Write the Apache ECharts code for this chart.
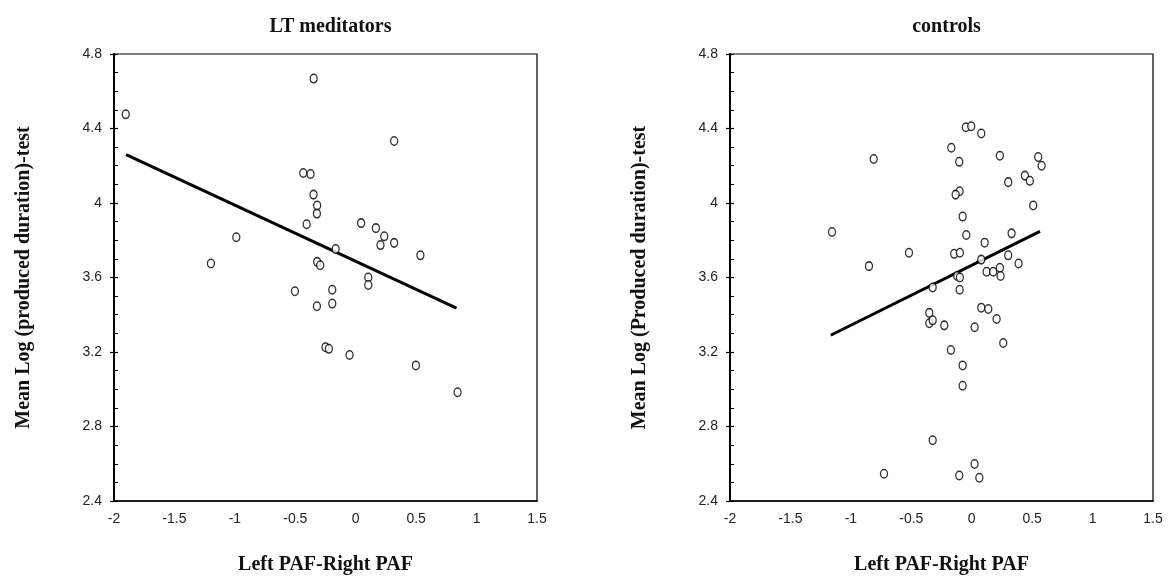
<!DOCTYPE html>
<html>
<head>
<meta charset="utf-8">
<script src="https://cdn.jsdelivr.net/npm/echarts@6/dist/echarts.min.js"></script>
<style>html,body{margin:0;padding:0;background:#fff;}#c{width:1173px;height:580px;}</style>
</head>
<body>
<div id="c"></div>
<script>
const titles = ['LT meditators', 'controls'];
const xName = 'Left PAF-Right PAF';
const yNames = ['Mean Log (produced duration)-test', 'Mean Log (Produced duration)-test'];

const meditators = [
  [-1.903,4.476],[-0.988,3.816],[-1.198,3.675],[-0.348,4.668],[0.318,4.333],
  [-0.434,4.161],[-0.374,4.156],[-0.349,4.045],[-0.319,3.987],[-0.321,3.943],
  [-0.406,3.886],[0.045,3.892],[0.167,3.865],[0.236,3.821],[0.205,3.774],
  [0.318,3.786],[0.535,3.719],[-0.166,3.753],[-0.319,3.684],[-0.294,3.666],
  [0.104,3.600],[0.104,3.560],[-0.503,3.526],[-0.194,3.534],[-0.321,3.446],
  [-0.194,3.460],[-0.250,3.226],[-0.222,3.217],[-0.051,3.184],[0.498,3.128],
  [0.843,2.984]
];
const controls = [
  [-0.811,4.236],[-1.156,3.844],[-0.519,3.733],[-0.850,3.661],[-0.726,2.546],
  [-0.048,4.407],[-0.004,4.412],[0.079,4.373],[-0.169,4.297],[-0.103,4.221],
  [0.233,4.254],[0.550,4.247],[0.578,4.200],[0.440,4.147],[0.481,4.119],
  [0.302,4.112],[-0.100,4.063],[-0.133,4.045],[0.509,3.987],[-0.075,3.927],
  [-0.045,3.828],[0.330,3.837],[0.107,3.787],[-0.145,3.727],[-0.098,3.733],
  [0.302,3.719],[0.079,3.696],[0.388,3.675],[0.123,3.631],[0.178,3.631],
  [0.233,3.652],[0.239,3.608],[-0.120,3.608],[-0.098,3.600],[-0.323,3.546],
  [-0.100,3.534],[0.079,3.438],[0.137,3.431],[0.206,3.377],[-0.351,3.410],
  [-0.351,3.354],[-0.323,3.370],[-0.227,3.343],[0.024,3.333],[0.261,3.248],
  [-0.172,3.211],[-0.075,3.128],[-0.075,3.019],[-0.323,2.726],[0.024,2.599],
  [-0.103,2.537],[0.063,2.525]
];
const fitMeditators = [[-1.90,4.26],[0.834,3.435]];
const fitControls = [[-1.167,3.290],[0.565,3.848]];

const xMin = -2, xMax = 1.5, xStep = 0.5;
const yMin = 2.4, yMax = 4.8, yStep = 0.4;

const serif = 'Liberation Serif';
const sans = 'Liberation Sans';
const gridLefts = [114, 730];
const gridW = 423, gridTop = 54, gridH = 453;

const option = {
  animation: false,
  backgroundColor: '#fff',
  title: titles.map((t, i) => ({
    text: t,
    left: gridLefts[i] + gridW / 2,
    textAlign: 'center',
    top: 12,
    textStyle: { fontFamily: serif, fontWeight: 'bold', fontSize: 20, color: '#111' }
  })),
  grid: gridLefts.map(l => ({
    left: l, top: gridTop, width: gridW, height: gridH,
    show: true, borderColor: '#000', borderWidth: 1.2, backgroundColor: 'transparent'
  })),
  xAxis: [0, 1].map(i => ({
    type: 'value', gridIndex: i, min: xMin, max: xMax, interval: xStep,
    name: xName, nameLocation: 'middle', nameGap: 54,
    nameTextStyle: { fontFamily: serif, fontWeight: 'bold', fontSize: 20, color: '#111' },
    axisLine: { show: true, onZero: false, lineStyle: { color: '#000', width: 1.5 } },
    axisTick: { show: false },
    splitLine: { show: false },
    axisLabel: { fontFamily: sans, fontSize: 14, color: '#222', margin: 11 }
  })),
  yAxis: [0, 1].flatMap(i => ([
    {
      type: 'value', gridIndex: i, min: yMin, max: yMax, interval: yStep,
      name: yNames[i], nameLocation: 'middle', nameGap: 80,
      nameTextStyle: { fontFamily: serif, fontWeight: 'bold', fontSize: 20, color: '#111' },
      axisLine: { show: true, onZero: false, lineStyle: { color: '#000', width: 2 } },
      axisTick: { show: true, inside: true, length: 4, lineStyle: { color: '#000', width: 1.2 } },
      minorTick: { show: true, splitNumber: 4, length: 4, lineStyle: { color: '#000', width: 1 } },
      splitLine: { show: false },
      axisLabel: { fontFamily: sans, fontSize: 14, color: '#222', margin: 12 }
    },
    {
      type: 'value', gridIndex: i, min: yMin, max: yMax, interval: yStep, position: 'left',
      axisLine: { show: false, onZero: false },
      axisTick: { show: true, inside: false, length: 4, lineStyle: { color: '#000', width: 1.2 } },
      axisLabel: { show: false },
      splitLine: { show: false }
    }
  ])),
  series: [
    { type: 'scatter', xAxisIndex: 0, yAxisIndex: 0, data: meditators, symbol: 'circle', symbolSize: [7, 8.5],
      itemStyle: { color: '#fff', borderColor: '#000', borderWidth: 1.4 }, z: 3 },
    { type: 'line', xAxisIndex: 0, yAxisIndex: 0, data: fitMeditators, showSymbol: false, symbol: 'none',
      lineStyle: { color: '#000', width: 3 }, z: 2 },
    { type: 'scatter', xAxisIndex: 1, yAxisIndex: 2, data: controls, symbol: 'circle', symbolSize: [7, 8.5],
      itemStyle: { color: '#fff', borderColor: '#000', borderWidth: 1.4 }, z: 3 },
    { type: 'line', xAxisIndex: 1, yAxisIndex: 2, data: fitControls, showSymbol: false, symbol: 'none',
      lineStyle: { color: '#000', width: 3 }, z: 2 }
  ]
};
echarts.init(document.getElementById('c')).setOption(option);
</script>
</body>
</html>
